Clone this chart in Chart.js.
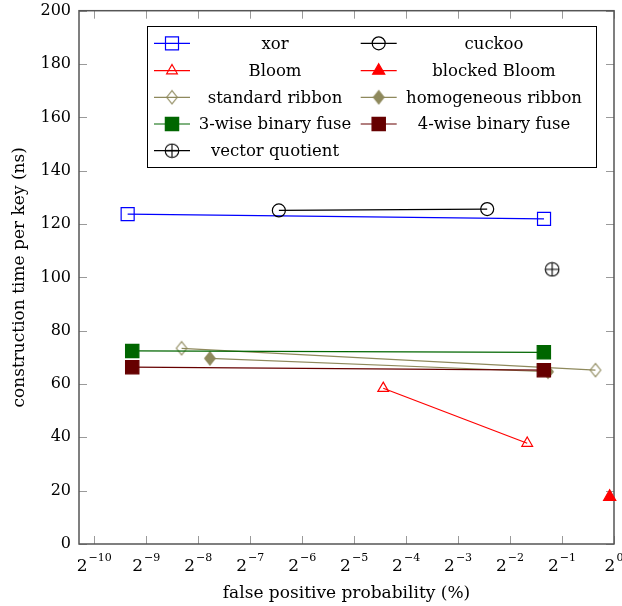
<!DOCTYPE html>
<html><head><meta charset="utf-8">
<script src="https://cdn.jsdelivr.net/npm/chart.js@4.4.0/dist/chart.umd.min.js"></script>
<style>html,body{margin:0;padding:0;background:#fff;}#wrap{width:622px;height:606px;}</style>
</head><body><div id="wrap"><canvas id="c" width="622" height="606"></canvas></div>
<script>
const FONT = 'DejaVu Serif';

// ---- data (x = false positive probability, y = construction time per key in ns) ----
const seriesNames = ['xor', 'cuckoo', 'Bloom', 'blocked Bloom', 'standard ribbon',
  'homogeneous ribbon', '3-wise binary fuse', '4-wise binary fuse', 'vector quotient'];
const xorX = [0.001524, 0.3933];       const xorY = [123.7, 121.9];
const cuckooX = [0.01145, 0.1843];     const cuckooY = [125.1, 125.6];
const bloomX = [0.04607, 0.3143];      const bloomY = [58.4, 37.8];
const blockedBloomX = [0.944];         const blockedBloomY = [17.7];
const stdRibbonX = [0.003129, 0.7808]; const stdRibbonY = [73.4, 65.2];
const homRibbonX = [0.004565, 0.4147]; const homRibbonY = [69.6, 64.6];
const fuse3X = [0.00162, 0.3923];      const fuse3Y = [72.4, 71.9];
const fuse4X = [0.00162, 0.3923];      const fuse4Y = [66.3, 65.2];
const vqX = [0.4383];                  const vqY = [103.0];
const xTickExponents = [-10, -9, -8, -7, -6, -5, -4, -3, -2, -1, 0];
const yTickValues = [0, 20, 40, 60, 80, 100, 120, 140, 160, 180, 200];

// ---- marker images ----
const OLIVE = '#8e895c';
function makeDiamond(filled) {
  const c = document.createElement('canvas'); c.width = 14; c.height = 16;
  const g = c.getContext('2d');
  g.beginPath(); g.moveTo(7, 1.3); g.lineTo(12.3, 8); g.lineTo(7, 14.7); g.lineTo(1.7, 8); g.closePath();
  if (filled) { g.fillStyle = OLIVE; g.fill(); }
  g.strokeStyle = OLIVE; g.lineWidth = 1.1; g.stroke();
  return c;
}
function makeOplus() {
  const c = document.createElement('canvas'); c.width = 16; c.height = 16;
  const g = c.getContext('2d');
  g.strokeStyle = '#000'; g.lineWidth = 1.1;
  g.beginPath(); g.arc(8, 8, 6.8, 0, Math.PI * 2); g.stroke();
  g.beginPath(); g.moveTo(1.2, 8); g.lineTo(14.8, 8); g.moveTo(8, 1.2); g.lineTo(8, 14.8); g.stroke();
  return c;
}
const openDiamond = makeDiamond(false);
const filledDiamond = makeDiamond(true);
const oplus = makeOplus();

function mk(label, xs, ys, color, opts) {
  return Object.assign({
    label: label,
    data: xs.map((x, i) => ({ x: x, y: ys[i] })),
    borderColor: color, backgroundColor: color, borderWidth: 1.2,
    showLine: true, tension: 0, clip: false,
    pointBorderColor: color, pointBackgroundColor: 'rgba(0,0,0,0)', pointBorderWidth: 1.2,
    pointHoverRadius: 0
  }, opts);
}
const datasets = [
  mk(seriesNames[0], xorX, xorY, '#0000ff', { pointStyle: 'rect', pointRadius: 9.2 }),
  mk(seriesNames[1], cuckooX, cuckooY, '#000000', { pointStyle: 'circle', pointRadius: 6.5 }),
  mk(seriesNames[2], bloomX, bloomY, '#ff0000', { pointStyle: 'triangle', pointRadius: 6.2 }),
  mk(seriesNames[3], blockedBloomX, blockedBloomY, '#ff0000', { pointStyle: 'triangle', pointRadius: 7, pointBackgroundColor: '#ff0000' }),
  mk(seriesNames[4], stdRibbonX, stdRibbonY, OLIVE, { pointStyle: openDiamond }),
  mk(seriesNames[5], homRibbonX, homRibbonY, OLIVE, { pointStyle: filledDiamond }),
  mk(seriesNames[6], fuse3X, fuse3Y, '#006600', { pointStyle: 'rect', pointRadius: 9.4, pointBackgroundColor: '#006600' }),
  mk(seriesNames[7], fuse4X, fuse4Y, '#660000', { pointStyle: 'rect', pointRadius: 9.4, pointBackgroundColor: '#660000' }),
  mk(seriesNames[8], vqX, vqY, '#000000', { pointStyle: oplus })
];
datasets.forEach((d, i) => { d.order = -i; });

function drawMarker(g, ds, x, y) {
  const s = ds.pointStyle, r = ds.pointRadius;
  g.save();
  g.lineWidth = ds.pointBorderWidth; g.strokeStyle = ds.pointBorderColor; g.fillStyle = ds.pointBackgroundColor;
  if (typeof s !== 'string') { g.drawImage(s, x - s.width / 2, y - s.height / 2); g.restore(); return; }
  g.beginPath();
  if (s === 'rect') { const h = Math.SQRT1_2 * r; g.rect(x - h, y - h, 2 * h, 2 * h); }
  else if (s === 'circle') { g.arc(x, y, r, 0, Math.PI * 2); }
  else if (s === 'triangle') {
    let a = 0;
    for (let k = 0; k < 3; k++) { const px = x + Math.sin(a) * r, py = y - Math.cos(a) * r; k ? g.lineTo(px, py) : g.moveTo(px, py); a += 2 * Math.PI / 3; }
    g.closePath();
  }
  g.fill(); g.stroke(); g.restore();
}

function zeroPad(s) { s.paddingTop = 0; s.paddingBottom = 0; s.paddingLeft = 0; s.paddingRight = 0; }

const framePlugin = {
  id: 'frame',
  beforeDatasetsDraw(chart) {
    const g = chart.ctx, a = chart.chartArea, xs = chart.scales.x, ys = chart.scales.y;
    g.save();
    g.strokeStyle = '#9a9a9a'; g.lineWidth = 1;
    xs.ticks.forEach(t => {
      const px = Math.round(xs.getPixelForValue(t.value)) + 0.5;
      g.beginPath(); g.moveTo(px, a.bottom); g.lineTo(px, a.bottom - 8);
      g.moveTo(px, a.top); g.lineTo(px, a.top + 8); g.stroke();
    });
    ys.ticks.forEach(t => {
      const py = Math.round(ys.getPixelForValue(t.value)) + 0.5;
      g.beginPath(); g.moveTo(a.left, py); g.lineTo(a.left + 8, py);
      g.moveTo(a.right, py); g.lineTo(a.right - 8, py); g.stroke();
    });
    g.strokeStyle = '#555'; g.lineWidth = 1.5;
    g.strokeRect(a.left, a.top, a.right - a.left, a.bottom - a.top);
    g.restore();
  },
  afterDraw(chart) {
    const g = chart.ctx, xs = chart.scales.x;
    g.save();
    g.fillStyle = '#000'; g.textBaseline = 'alphabetic'; g.textAlign = 'left';
    xs.ticks.forEach((t, i) => {
      const e = xTickExponents[i];
      const expText = e < 0 ? '\u2212' + Math.abs(e) : String(e);
      const px = xs.getPixelForValue(t.value);
      g.font = '17px "' + FONT + '"'; const w2 = g.measureText('2').width;
      g.font = '11px "' + FONT + '"'; const we = g.measureText(expText).width;
      const start = px - (w2 + 1 + we) / 2;
      g.font = '17px "' + FONT + '"'; g.fillText('2', start, 571);
      g.font = '11px "' + FONT + '"'; g.fillText(expText, start + w2 + 1, 561);
    });
    // legend
    const L = 147.5, T = 26.5, W = 449, H = 141;
    g.fillStyle = '#fff'; g.fillRect(L, T, W, H);
    g.strokeStyle = '#000'; g.lineWidth = 1; g.strokeRect(L, T, W, H);
    const rowY = [43.3, 70.7, 97.3, 124, 150.7];
    const colSample = [172, 378.7], colText = [275, 494];
    chart.data.datasets.forEach((ds, i) => {
      const col = i % 2, row = Math.floor(i / 2);
      const y = rowY[row], mx = colSample[col];
      g.strokeStyle = ds.borderColor; g.lineWidth = ds.borderWidth;
      g.beginPath(); g.moveTo(mx - 18, y); g.lineTo(mx + 18, y); g.stroke();
      drawMarker(g, ds, mx, y);
      g.fillStyle = '#000'; g.font = '16.5px "' + FONT + '"';
      g.textAlign = 'center'; g.textBaseline = 'middle';
      g.fillText(ds.label, colText[col], y + 1);
    });
    g.restore();
  }
};

new Chart(document.getElementById('c'), {
  type: 'scatter',
  data: { datasets: datasets },
  plugins: [framePlugin],
  options: {
    responsive: false, animation: false, devicePixelRatio: 1,
    layout: { autoPadding: false, padding: { left: 0, right: 8, top: 10.7, bottom: 0 } },
    plugins: { legend: { display: false }, tooltip: { enabled: false } },
    scales: {
      x: {
        type: 'logarithmic', min: Math.pow(2, -10.294), max: 1,
        afterBuildTicks: ax => { ax.ticks = xTickExponents.map(e => ({ value: Math.pow(2, e) })); },
        ticks: { display: false },
        grid: { display: false, drawTicks: false }, border: { display: false },
        title: { display: true, text: 'false positive probability (%)', color: '#000',
          font: { family: FONT, size: 17 }, padding: { top: 0, bottom: 2 } },
        afterFit: s => { s.height = 62; zeroPad(s); }
      },
      y: {
        min: 0, max: 200,
        afterBuildTicks: ax => { ax.ticks = yTickValues.map(v => ({ value: v })); },
        ticks: { color: '#000', font: { family: FONT, size: 16 }, padding: 8 },
        grid: { display: false, drawTicks: false }, border: { display: false },
        title: { display: true, text: 'construction time per key (ns)', color: '#000',
          font: { family: FONT, size: 17 }, padding: { top: 9.8, bottom: 0 } },
        afterFit: s => { s.width = 79; zeroPad(s); }
      }
    }
  }
});
</script></body></html>
